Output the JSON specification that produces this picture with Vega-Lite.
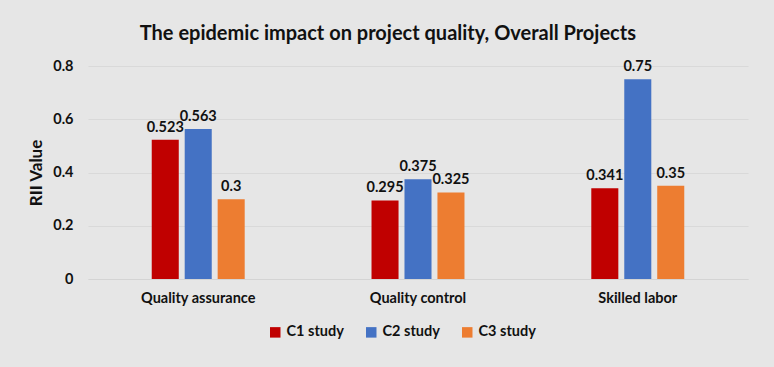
{
  "$schema": "https://vega.github.io/schema/vega-lite/v6.json",
  "autosize": "none",
  "width": 660,
  "height": 213,
  "padding": {"left": 88, "top": 66, "right": 26, "bottom": 88},
  "background": "#e6e6e6",
  "title": {
    "text": "The epidemic impact on project quality, Overall Projects",
    "font": "Lato",
    "fontSize": 20,
    "fontWeight": "bold",
    "color": "#111111",
    "anchor": "middle",
    "frame": "bounds",
    "offset": 14
  },
  "config": {
    "view": {"stroke": null},
    "font": "Lato"
  },
  "data": {
    "values": [
      {"category": "Quality assurance", "study": "C1 study", "value": 0.523, "label": "0.523"},
      {"category": "Quality assurance", "study": "C2 study", "value": 0.563, "label": "0.563"},
      {"category": "Quality assurance", "study": "C3 study", "value": 0.3, "label": "0.3"},
      {"category": "Quality control", "study": "C1 study", "value": 0.295, "label": "0.295"},
      {"category": "Quality control", "study": "C2 study", "value": 0.375, "label": "0.375"},
      {"category": "Quality control", "study": "C3 study", "value": 0.325, "label": "0.325"},
      {"category": "Skilled labor", "study": "C1 study", "value": 0.341, "label": "0.341"},
      {"category": "Skilled labor", "study": "C2 study", "value": 0.75, "label": "0.75"},
      {"category": "Skilled labor", "study": "C3 study", "value": 0.35, "label": "0.35"}
    ]
  },
  "encoding": {
    "x": {
      "field": "category",
      "type": "nominal",
      "sort": null,
      "scale": {"paddingInner": 0.577, "paddingOuter": 0.29},
      "axis": {
        "title": null,
        "labelAngle": 0,
        "labelFont": "Lato",
        "labelFontSize": 14.5,
        "labelFontWeight": "bold",
        "labelColor": "#111111",
        "labelPadding": 12,
        "ticks": false,
        "domain": true,
        "domainColor": "#d4d4d4"
      }
    },
    "xOffset": {
      "field": "study",
      "type": "nominal",
      "sort": null,
      "scale": {"paddingInner": 0.18, "paddingOuter": 0}
    },
    "y": {
      "field": "value",
      "type": "quantitative",
      "scale": {"domain": [0, 0.8]},
      "axis": {
        "title": "RII Value",
        "titleFont": "Lato",
        "titleFontSize": 17,
        "titleFontWeight": "bold",
        "titleColor": "#111111",
        "titlePadding": 7,
        "values": [0, 0.2, 0.4, 0.6, 0.8],
        "labelFont": "Lato",
        "labelFontSize": 14.5,
        "labelFontWeight": "bold",
        "labelColor": "#111111",
        "labelPadding": 15,
        "labelExpr": "datum.value == 0 ? '0' : format(datum.value, '.1f')",
        "ticks": false,
        "domain": false,
        "grid": true,
        "gridColor": "#d9d9d9",
        "gridWidth": 1
      }
    }
  },
  "layer": [
    {
      "mark": {"type": "bar"},
      "encoding": {
        "color": {
          "field": "study",
          "type": "nominal",
          "sort": null,
          "scale": {"domain": ["C1 study", "C2 study", "C3 study"], "range": ["#C00000", "#4472C4", "#ED7D31"]},
          "legend": {
            "title": null,
            "orient": "none",
            "direction": "horizontal",
            "legendX": 180,
            "legendY": 259,
            "symbolType": "square",
            "symbolSize": 110,
            "symbolStrokeWidth": 0,
            "labelFont": "Lato",
            "labelFontSize": 14.5,
            "labelFontWeight": "bold",
            "labelColor": "#111111",
            "columnPadding": 20,
            "labelOffset": 4
          }
        }
      }
    },
    {
      "mark": {"type": "text", "dy": -12, "font": "Lato", "fontSize": 14.5, "fontWeight": "bold", "color": "#111111"},
      "encoding": {
        "text": {"field": "label", "type": "nominal"}
      }
    }
  ]
}
